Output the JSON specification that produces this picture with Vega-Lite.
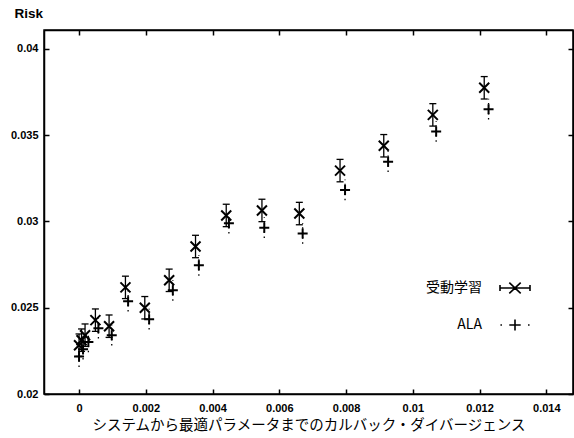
{
  "$schema": "https://vega.github.io/schema/vega-lite/v6.json",
  "width": 529,
  "height": 364,
  "autosize": "none",
  "padding": {"left": 44, "top": 30, "right": 1, "bottom": 44},
  "background": "white",
  "config": {
    "view": {"stroke": "black", "strokeWidth": 1.5},
    "axis": {"grid": false, "domainColor": "black", "domainWidth": 1.5, "tickColor": "black", "tickWidth": 1.5, "labelColor": "black", "titleColor": "black"}
  },
  "data": {"values": [
    {"s": "受動学習", "x": 0, "y": 0.02283, "lo": 0.02218, "hi": 0.02348},
    {"s": "受動学習", "x": 0.000075, "y": 0.02312, "lo": 0.02247, "hi": 0.02377},
    {"s": "受動学習", "x": 0.00018, "y": 0.02341, "lo": 0.02276, "hi": 0.02406},
    {"s": "受動学習", "x": 0.00049, "y": 0.02428, "lo": 0.02363, "hi": 0.02493},
    {"s": "受動学習", "x": 0.0009, "y": 0.02393, "lo": 0.02328, "hi": 0.02458},
    {"s": "受動学習", "x": 0.00139, "y": 0.02618, "lo": 0.02553, "hi": 0.02683},
    {"s": "受動学習", "x": 0.00197, "y": 0.0250, "lo": 0.02435, "hi": 0.02565},
    {"s": "受動学習", "x": 0.0027, "y": 0.02659, "lo": 0.02594, "hi": 0.02724},
    {"s": "受動学習", "x": 0.00349, "y": 0.02855, "lo": 0.0279, "hi": 0.0292},
    {"s": "受動学習", "x": 0.00441, "y": 0.03035, "lo": 0.0297, "hi": 0.031},
    {"s": "受動学習", "x": 0.00548, "y": 0.03064, "lo": 0.02999, "hi": 0.03129},
    {"s": "受動学習", "x": 0.0066, "y": 0.03046, "lo": 0.02981, "hi": 0.03111},
    {"s": "受動学習", "x": 0.00782, "y": 0.03295, "lo": 0.0323, "hi": 0.0336},
    {"s": "受動学習", "x": 0.00913, "y": 0.03439, "lo": 0.03374, "hi": 0.03504},
    {"s": "受動学習", "x": 0.0106, "y": 0.03618, "lo": 0.03553, "hi": 0.03683},
    {"s": "受動学習", "x": 0.01214, "y": 0.03775, "lo": 0.0371, "hi": 0.0384},
    {"s": "ALA", "x": 0, "y": 0.02217, "lo": 0.02157, "hi": 0.02277},
    {"s": "ALA", "x": 0.00012, "y": 0.0226, "lo": 0.022, "hi": 0.0232},
    {"s": "ALA", "x": 0.00028, "y": 0.02302, "lo": 0.02242, "hi": 0.02362},
    {"s": "ALA", "x": 0.00058, "y": 0.02381, "lo": 0.02321, "hi": 0.02441},
    {"s": "ALA", "x": 0.00098, "y": 0.02341, "lo": 0.02281, "hi": 0.02401},
    {"s": "ALA", "x": 0.00147, "y": 0.02538, "lo": 0.02478, "hi": 0.02598},
    {"s": "ALA", "x": 0.0021, "y": 0.02434, "lo": 0.02374, "hi": 0.02494},
    {"s": "ALA", "x": 0.00281, "y": 0.02601, "lo": 0.02541, "hi": 0.02661},
    {"s": "ALA", "x": 0.00359, "y": 0.02746, "lo": 0.02686, "hi": 0.02806},
    {"s": "ALA", "x": 0.00449, "y": 0.0299, "lo": 0.0293, "hi": 0.0305},
    {"s": "ALA", "x": 0.00555, "y": 0.02964, "lo": 0.02904, "hi": 0.03024},
    {"s": "ALA", "x": 0.0067, "y": 0.02931, "lo": 0.02871, "hi": 0.02991},
    {"s": "ALA", "x": 0.00797, "y": 0.03183, "lo": 0.03123, "hi": 0.03243},
    {"s": "ALA", "x": 0.00926, "y": 0.03347, "lo": 0.03287, "hi": 0.03407},
    {"s": "ALA", "x": 0.0107, "y": 0.03522, "lo": 0.03462, "hi": 0.03582},
    {"s": "ALA", "x": 0.01227, "y": 0.03651, "lo": 0.03591, "hi": 0.03711}
  ]},
  "layer": [
    {
      "transform": [{"filter": "datum.s === '受動学習'"}],
      "mark": {"type": "rule", "color": "black", "strokeWidth": 1.3},
      "encoding": {
        "x": {"field": "x", "type": "quantitative",
          "scale": {"domain": [-0.00105, 0.0148], "nice": false, "zero": false},
          "axis": {"values": [0, 0.002, 0.004, 0.006, 0.008, 0.01, 0.012, 0.014], "format": ".3~f", "tickSize": -5, "labelPadding": 13,
            "labelFont": "Liberation Sans", "labelFontSize": 11, "labelFontWeight": "bold",
            "title": "システムから最適パラメータまでのカルバック・ダイバージェンス", "titleFont": "Noto Sans CJK JP", "titleFontSize": 14.5, "titleFontWeight": "normal", "titlePadding": 5}},
        "y": {"field": "lo", "type": "quantitative",
          "scale": {"domain": [0.02, 0.0411], "nice": false, "zero": false},
          "axis": {"values": [0.02, 0.025, 0.03, 0.035, 0.04], "format": ".3~f", "tickSize": -5, "labelPadding": 11,
            "labelFont": "Liberation Sans", "labelFontSize": 11, "labelFontWeight": "bold",
            "title": "Risk", "titleFont": "Liberation Sans", "titleFontSize": 13.5, "titleFontWeight": "bold", "titleAngle": 0,
            "titleAlign": "left", "titleBaseline": "alphabetic", "titleX": -30, "titleY": -13}},
        "y2": {"field": "hi"}
      }
    },
    {
      "transform": [{"filter": "datum.s === 'ALA'"}],
      "mark": {"type": "rule", "color": "black", "strokeWidth": 1.3, "strokeDash": [1.5, 3.5]},
      "encoding": {
        "x": {"field": "x", "type": "quantitative", "axis": null},
        "y": {"field": "lo", "type": "quantitative", "axis": null},
        "y2": {"field": "hi"}
      }
    },
    {
      "transform": [{"filter": "datum.s === '受動学習'"}],
      "mark": {"type": "point", "shape": "M-1,0L1,0", "size": 49, "filled": false, "stroke": "black", "strokeWidth": 1.3, "opacity": 1},
      "encoding": {
        "x": {"field": "x", "type": "quantitative", "axis": {"values": [0, 0.002, 0.004, 0.006, 0.008, 0.01, 0.012, 0.014], "tickSize": -5, "labels": false, "title": null}},
        "y": {"field": "lo", "type": "quantitative", "axis": {"values": [0.02, 0.025, 0.03, 0.035, 0.04], "tickSize": -5, "labels": false, "title": null}}
      }
    },
    {
      "transform": [{"filter": "datum.s === '受動学習'"}],
      "mark": {"type": "point", "shape": "M-1,0L1,0", "size": 49, "filled": false, "stroke": "black", "strokeWidth": 1.3, "opacity": 1},
      "encoding": {
        "x": {"field": "x", "type": "quantitative", "axis": null},
        "y": {"field": "hi", "type": "quantitative", "axis": null}
      }
    },
    {
      "mark": {"type": "point", "filled": false, "stroke": "black", "strokeWidth": 2, "size": 100, "opacity": 1},
      "encoding": {
        "x": {"field": "x", "type": "quantitative", "axis": null},
        "y": {"field": "y", "type": "quantitative", "axis": null},
        "shape": {"field": "s", "type": "nominal",
          "scale": {"domain": ["受動学習", "ALA"], "range": ["M-1,-1L1,1M1,-1L-1,1", "M-1,0L1,0M0,-1L0,1"]},
          "legend": null}
      }
    },
    {
      "transform": [{"filter": "false"}],
      "mark": {"type": "point", "filled": false, "stroke": "black", "strokeWidth": 1.6, "opacity": 1},
      "encoding": {
        "x": {"field": "x", "type": "quantitative", "axis": null},
        "y": {"field": "y", "type": "quantitative", "axis": null},
        "shape": {"field": "s", "type": "nominal",
          "scale": {"domain": ["受動学習", "ALA"], "range": [
            "M-1,0L1,0M-1,-0.2L-1,0.2M1,-0.2L1,0.2M-0.38,-0.36L0.38,0.36M0.38,-0.36L-0.38,0.36",
            "M-0.38,0L0.38,0M0,-0.36L0,0.36M-0.97,0L-0.87,0M0.87,0L0.97,0"]},
          "legend": {"title": null, "orient": "none", "legendX": 455, "legendY": 242,
            "labelAlign": "right", "labelOffset": -49, "labelFont": "Noto Sans CJK JP", "labelFontSize": 14, "labelColor": "black",
            "rowPadding": 12, "symbolStrokeColor": "black", "symbolStrokeWidth": 1.6, "symbolSize": 900, "symbolFillColor": "transparent"}}
      }
    }
  ],
  "resolve": {"scale": {"shape": "independent"}, "axis": {"x": "independent", "y": "independent"}}
}
